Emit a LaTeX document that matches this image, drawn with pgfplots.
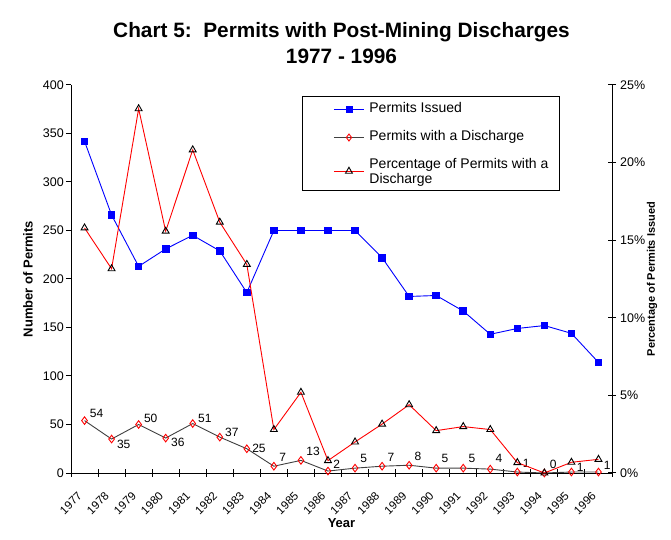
\documentclass[border=0pt]{standalone}
\usepackage{fontspec}
\setmainfont{Liberation Sans}
\usepackage{pgfplots}
\usepackage{pgfplotstable}
\pgfplotsset{compat=1.18}
\pgfplotsset{/pgf/number format/assume math mode=true}

\definecolor{issuedblue}{RGB}{0,0,255}
\definecolor{pctred}{RGB}{255,0,0}
\definecolor{dischgray}{RGB}{64,64,64}

% Permits issued per year (1977 = 0)
\pgfplotstableread{
x issued
0 342
1 266
2 213
3 231
4 245
5 229
6 186
7 250
8 250
9 250
10 250
11 222
12 182
13 183
14 167
15 143
16 149
17 152
18 144
19 114
}\issuedtab

% Permits with a discharge; dy = vertical offset of the value label
\pgfplotstableread{
x n dy
0 54 7
1 35 -5
2 50 6
3 36 -4
4 51 5
5 37 5
6 25 0
7 7 9
8 13 9
9 2 7
10 5 10
11 7 9
12 8 9
13 5 10
14 5 10
15 4 11
16 1 9
17 0 9
18 1 5
19 1 7
}\dischtab

% Share of issued permits with a discharge, in percent
\pgfplotstableread{
x pct
0 15.79
1 13.16
2 23.47
3 15.58
4 20.82
5 16.16
6 13.44
7 2.80
8 5.20
9 0.80
10 2.00
11 3.15
12 4.40
13 2.73
14 2.99
15 2.80
16 0.67
17 0.00
18 0.69
19 0.88
}\pcttab

\newcommand\tickfont{\fontsize{12.5bp}{14bp}\selectfont}
\newcommand\yearfont{\fontsize{11.5bp}{13bp}\selectfont}
\newcommand\valfont{\fontsize{12bp}{14bp}\selectfont}
\newcommand\labfont{\bfseries\fontsize{13bp}{15bp}\selectfont}

\begin{document}
\begin{tikzpicture}
\useasboundingbox (0,0) rectangle (671bp,540bp);

\begin{axis}[
  at={(71bp,67bp)}, anchor=south west,
  scale only axis, width=541bp, height=388bp,
  xmin=-0.5, xmax=19.5, ymin=0, ymax=400,
  axis x line*=bottom, axis y line*=left,
  axis line style={-, line width=1bp, black},
  ytick={0,50,...,400},
  xtick={0,...,19},
  xticklabels={1977,1978,1979,1980,1981,1982,1983,1984,1985,1986,1987,1988,1989,1990,1991,1992,1993,1994,1995,1996},
  major x tick style={draw=none},
  minor xtick={-0.5,0.5,...,19.5},
  minor tick length=8bp,
  minor x tick style={yshift=4bp, line width=1bp, black},
  major tick length=5bp,
  tick align=outside,
  major y tick style={line width=1bp, black},
  tick label style={font=\tickfont},
  xticklabel style={font=\yearfont, xshift=-4.5bp, yshift=-16bp, rotate=45, anchor=east, inner sep=0pt},
  yticklabel style={inner sep=2bp},
  xlabel={Year},
  ylabel={Number of Permits},
  label style={font=\labfont},
  xlabel style={at={(axis description cs:0.5,-0.1289)}, anchor=center},
  ylabel style={at={(axis description cs:-0.0795,0.5)}, anchor=center},
  title={Chart 5:\ \ Permits with Post-Mining Discharges\\1977 - 1996},
  title style={at={(axis description cs:0.5,1)}, anchor=south, inner sep=0pt,
    yshift=15bp, align=center, font=\bfseries\fontsize{20.8bp}{26bp}\selectfont},
  clip=false,
]
\addplot[issuedblue, line width=0.9bp, mark=square*, mark size=3.3bp,
  mark options={fill=issuedblue, draw=issuedblue}]
  table[x=x, y=issued] {\issuedtab};
\addplot[dischgray, line width=0.9bp, mark=diamond, mark size=3.8bp,
  mark options={draw=pctred, fill=white, line width=0.9bp},
  point meta=explicit,
  nodes near coords,
  visualization depends on={\thisrow{dy} \as \labeldy},
  every node near coord/.append style={font=\valfont, text=black,
    anchor=west, inner sep=0pt, xshift=5bp, yshift=\labeldy bp}]
  table[x=x, y=n, meta=n] {\dischtab};
\end{axis}

\begin{axis}[
  at={(71bp,67bp)}, anchor=south west,
  scale only axis, width=541bp, height=388bp,
  xmin=-0.5, xmax=19.5, ymin=0, ymax=25,
  axis x line=none, axis y line*=right,
  axis line style={-, line width=1bp, black},
  ytick={0,5,...,25},
  yticklabel={\pgfmathprintnumber{\tick}\%},
  tick align=center, major tick length=8bp,
  major y tick style={line width=1bp, black},
  tick label style={font=\tickfont},
  yticklabel style={inner sep=2bp, xshift=2bp},
  ylabel={Percentage of Permits Issued},
  ylabel style={at={(axis description cs:1.074,0.5)}, anchor=center,
    font=\bfseries\fontsize{11bp}{13bp}\selectfont},
  legend style={at={(axis description cs:0.427,0.9716)}, anchor=north west,
    draw=black, line width=1bp, inner xsep=0pt, inner ysep=3.5bp,
    row sep=9bp, font=\fontsize{14bp}{15bp}\selectfont,
    nodes={inner sep=2bp}},
  legend cell align=left,
  legend image code/.code={
    \path (-31bp,0bp) (33bp,0bp);
    \draw[mark repeat=2, mark phase=2, #1]
      plot coordinates {(0bp,0bp) (15bp,0bp) (30bp,0bp)};},
  clip=false,
]
\addlegendimage{issuedblue, line width=0.9bp, mark=square*, mark size=3bp,
  mark options={fill=issuedblue, draw=issuedblue}}
\addlegendentry[text height=10.5bp, text depth=4.5bp]{\parbox[t]{188bp}{\strut Permits Issued\strut}}
\addlegendimage{dischgray, line width=0.9bp, mark=diamond, mark size=3.5bp,
  mark options={draw=pctred, fill=white}}
\addlegendentry[text height=10.5bp, text depth=4.5bp]{\parbox[t]{188bp}{\strut Permits with a Discharge\strut}}
\addplot[pctred, line width=0.9bp, mark=triangle, mark size=4bp,
  mark options={draw=black, fill=white, line width=0.9bp}]
  table[x=x, y=pct] {\pcttab};
\addlegendentry[text height=10.5bp, text depth=16bp]{\parbox[t]{188bp}{\strut Percentage of Permits with a\\Discharge\strut}}
\end{axis}
\end{tikzpicture}
\end{document}
